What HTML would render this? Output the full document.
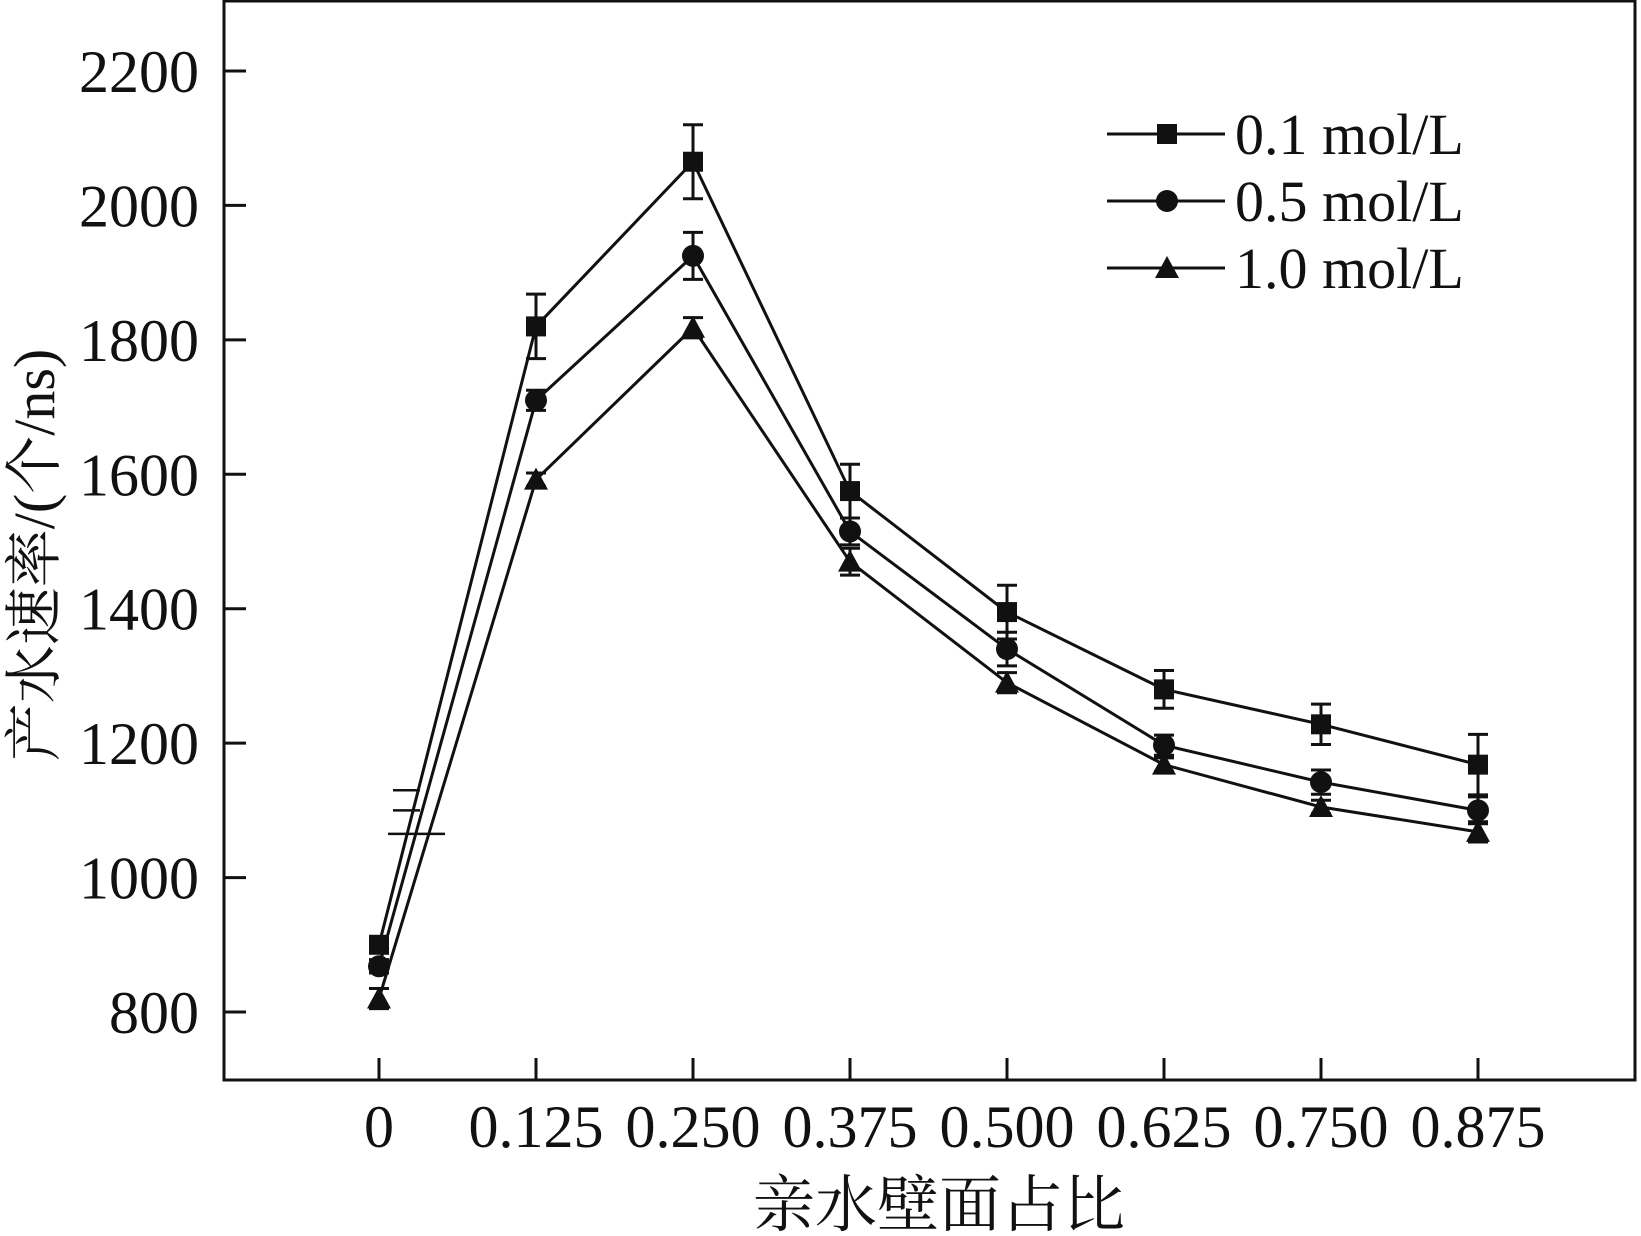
<!DOCTYPE html>
<html><head><meta charset="utf-8"><style>
html,body{margin:0;padding:0;background:#fff;}
svg text{font-family:"Liberation Serif","Noto Serif CJK SC",serif;fill:#111;}
</style></head><body>
<svg id="chart" width="1641" height="1231" viewBox="0 0 1641 1231" xmlns="http://www.w3.org/2000/svg">
<g id="axes"></g><g id="series"></g><g id="legend"></g>
</svg>
<script>
const categories = ["0","0.125","0.250","0.375","0.500","0.625","0.750","0.875"];
const yTicks = [800,1000,1200,1400,1600,1800,2000,2200];
const seriesNames = ["0.1 mol/L","0.5 mol/L","1.0 mol/L"];
const s1 = [900,1820,2065,1575,1395,1280,1228,1168];
const s2 = [868,1710,1925,1515,1340,1197,1142,1100];
const s3 = [820,1592,1818,1470,1290,1168,1105,1068];
const e1 = [12,48,55,40,40,28,30,45];
const e2 = [10,15,35,20,25,15,18,20];
const e3 = [15,10,15,20,15,10,10,15];
const NS="http://www.w3.org/2000/svg";
function xS(i){return 379+i*157;}
function yS(v){return 1012-(v-800)*(941/1400);}
function mk(tag,attrs,parent){const e=document.createElementNS(NS,tag);for(const k in attrs)e.setAttribute(k,attrs[k]);parent.appendChild(e);return e;}
const axes=document.getElementById('axes'),ser=document.getElementById('series'),leg=document.getElementById('legend');
let f=mk('rect',{x:224,y:1,width:1411,height:1079,fill:'none',stroke:'#111','stroke-width':3},axes);

yTicks.forEach(v=>{const y=yS(v);
 let t=mk('line',{x1:224,x2:246,y1:y,y2:y,stroke:'#111','stroke-width':3},axes);
 
 let l=mk('text',{x:199,y:y+21,'text-anchor':'end','font-size':60},axes);l.textContent=v;
 });
categories.forEach((c,i)=>{const x=xS(i);
 let t=mk('line',{x1:x,x2:x,y1:1058,y2:1080,stroke:'#111','stroke-width':3},axes);
 
 let l=mk('text',{x:x,y:1147,'text-anchor':'middle','font-size':60},axes);l.textContent=c;
 });
let xt=mk('text',{x:939,y:1226,'text-anchor':'middle','font-size':62},axes);xt.textContent='亲水壁面占比';

let yt=mk('text',{x:0,y:0,'text-anchor':'middle','font-size':58,transform:'translate(54,555) rotate(-90)'},axes);yt.textContent='产水速率/(个/ns)';

[1130,1100,1065].forEach((v,k)=>{let s=mk('line',{x1:k==2?388:393,x2:k==2?445:420,y1:yS(v),y2:yS(v),stroke:'#111','stroke-width':2.5},axes);
 });
function marker(type,x,y,g){let m;
 if(type==0)m=mk('rect',{x:x-10,y:y-10,width:20,height:20,fill:'#111'},g);
 else if(type==1)m=mk('circle',{cx:x,cy:y,r:11,fill:'#111'},g);
 else m=mk('polygon',{points:`${x},${y-12} ${x-12},${y+10} ${x+12},${y+10}`,fill:'#111'},g);
 return m;}
const all=[s1,s2,s3],errs=[e1,e2,e3];
all.forEach((s,k)=>{
 const g=mk('g',{},ser);
 let p=mk('polyline',{points:s.map((v,i)=>xS(i)+','+yS(v)).join(' '),fill:'none',stroke:'#111','stroke-width':3},g);
 
 s.forEach((v,i)=>{const x=xS(i),e=errs[k][i];
  let eb=mk('path',{d:`M${x},${yS(v+e)}V${yS(v-e)}M${x-10},${yS(v+e)}H${x+10}M${x-10},${yS(v-e)}H${x+10}`,stroke:'#111','stroke-width':3,fill:'none'},g);
  
  let m=marker(k,x,yS(v),g);});
});
seriesNames.forEach((n,k)=>{const y=134+k*67;
 const g=mk('g',{},leg);
 mk('line',{x1:1107,x2:1225,y1:y,y2:y,stroke:'#111','stroke-width':3},g);
 marker(k,1167,y,g);
 let t=mk('text',{x:1235,y:y+20,'font-size':58},g);t.textContent=n;});
</script>
</body></html>
